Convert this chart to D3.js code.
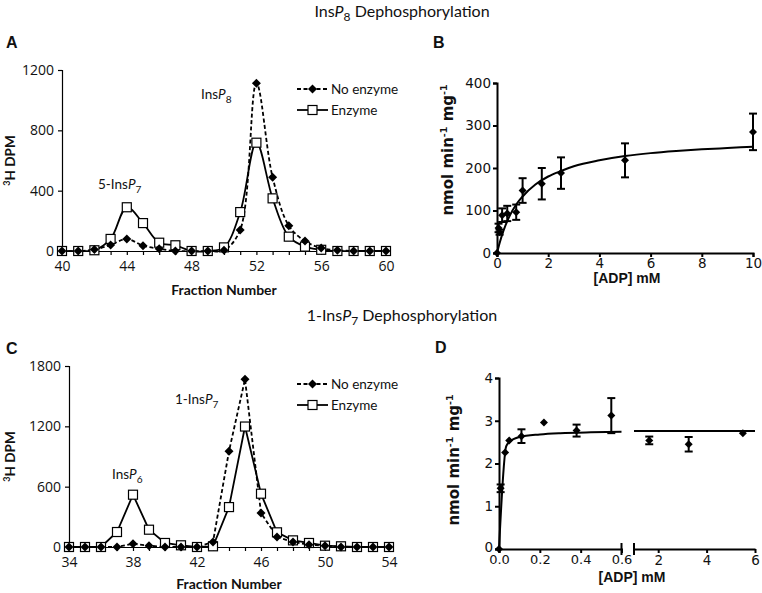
<!DOCTYPE html>
<html>
<head>
<meta charset="utf-8">
<script src="https://cdn.jsdelivr.net/npm/d3@7"></script>
<style>
  html, body { margin: 0; padding: 0; background: #fff; }
  svg { display: block; }
  text { fill: #111; }
</style>
</head>
<body>
<svg id="chart" width="762" height="593"></svg>
<script>
// ---------------- DATA ----------------
// Panel A: InsP8 dephosphorylation HPLC profile
const fracA = [40,41,42,43,44,45,46,47,48,49,50,51,52,53,54,55,56,57,58,59,60];
const noEnzA = [0,0,10,40,80,35,15,0,0,0,5,140,1112,489,168,66,20,5,0,0,0];
const enzA   = [0,0,5,80,290,185,55,38,0,0,24,258,718,349,95,29,8,0,0,0,0];
const xTicksA = [40,44,48,52,56,60];
const yTicksA = [0,400,800,1200];

// Panel B: kinetics vs ADP (InsP8)
const adpB  = [0,0.06,0.1,0.2,0.4,0.75,1,1.75,2.5,5,10];
const rateB = [0,59,49,89,93,96,147,163,188,218,285];
const errB  = [0,10,6,16,18,18,29,37,37,40,43];
const fitXB = [0,0.1,0.25,0.5,0.75,1,1.5,2,2.5,3,4,5,6,7,8,9,10];
const fitYB = [0,23,52,88,114,133,161,180,193,204,218,228,235,240,244,247,250];
const xTicksB = [0,2,4,6,8,10];
const yTicksB = [0,100,200,300,400];

// Panel C: 1-InsP7 dephosphorylation HPLC profile
const fracC = [34,35,36,37,38,39,40,41,42,43,44,45,46,47,48,49,50,51,52,53,54];
const noEnzC = [0,0,0,0,33,13,0,0,0,50,953,1668,338,100,50,23,13,0,0,0,0];
const enzC   = [0,0,0,149,520,172,40,17,0,7,397,1198,530,146,66,40,13,7,0,0,0];
const xTicksC = [34,38,42,46,50,54];
const yTicksC = [0,600,1200,1800];

// Panel D: kinetics vs ADP (1-InsP7), broken x axis
const adpD  = [0,0.008,0.03,0.05,0.11,0.22,0.38,0.55,1.63,3.26,5.5];
const rateD = [0,1.42,2.26,2.54,2.64,2.96,2.77,3.12,2.54,2.45,2.71];
const errD  = [0,0.09,0,0,0.16,0,0.14,0.41,0.09,0.17,0];
const fitXD1 = [0,0.035,0.05,0.1,0.2,0.3,0.45,0.6];
const fitYD1 = [0,2.4,2.5,2.62,2.68,2.71,2.73,2.74];
const fitXD2 = [1,6];
const fitYD2 = [2.76,2.76];
const xTicksD1 = [0,0.2,0.4,0.6];
const xTicksD2 = [2,4,6];
const yTicksD = [0,1,2,3,4];

const legendLabels = ["No enzyme","Enzyme"];

// ---------------- DRAWING ----------------
const svg = d3.select("#chart");
const FONT = "Lato, 'Open Sans', sans-serif";
const FONT_T = "'Open Sans', Lato, sans-serif";
const FONT_B = "'DejaVu Sans', Verdana, sans-serif";
const FONT_BL = "'Liberation Sans', Arial, sans-serif";

function diamond(r){ return `M0,${-r}L${r},0L0,${r}L${-r},0Z`; }

function richTitle(x, y, parts, size, anchor="middle", family=FONT, weight="normal"){
  const t = svg.append("text").attr("x",x).attr("y",y).attr("text-anchor",anchor)
    .attr("font-family",family).attr("font-size",size).attr("font-weight",weight);
  parts.forEach(p=>{
    const ts = t.append("tspan").text(p.t);
    if(p.i) ts.attr("font-style","italic");
    if(p.sub) ts.attr("font-size",size*0.75).attr("dy",size*0.28);
    if(p.up) ts.attr("dy",-size*0.28);
  });
  return t;
}

richTitle(402,17,[{t:"Ins"},{t:"P",i:1},{t:"8",sub:1},{t:" Dephosphorylation",up:1}],16);
richTitle(402,321,[{t:"1-Ins"},{t:"P",i:1},{t:"7",sub:1},{t:" Dephosphorylation",up:1}],16);

[["A",6,48],["B",433,48],["C",6,354],["D",435,353]].forEach(([l,x,y])=>{
  svg.append("text").attr("x",x).attr("y",y).attr("font-family",FONT_BL)
    .attr("font-weight","bold").attr("font-size",16).text(l);
});

// ---------- Profile panels (A, C) ----------
function profilePanel(cfg){
  const g = svg.append("g");
  const x = d3.scaleLinear().domain(cfg.xDom).range(cfg.xRange);
  const y = d3.scaleLinear().domain(cfg.yDom).range(cfg.yRange);

  const yAx = g.append("g").attr("transform",`translate(${cfg.xRange[0]},0)`)
    .call(d3.axisLeft(y).tickValues(cfg.yTicks).tickSize(4).tickPadding(4).tickFormat(d3.format("d")));
  const xAx = g.append("g").attr("transform",`translate(0,${cfg.yRange[0]})`)
    .call(d3.axisBottom(x).tickValues(cfg.frac).tickSize(4).tickPadding(6)
      .tickFormat(d => cfg.xTicks.includes(d) ? d : ""));
  [yAx,xAx].forEach(a=>{
    a.select(".domain").attr("stroke","#000").attr("stroke-width",1.2);
    a.selectAll(".tick line").attr("stroke","#000").attr("stroke-width",1.2);
    a.selectAll("text").attr("font-family",FONT_T).attr("font-size",14).attr("fill","#111");
  });

  const curve = cfg.smooth ? d3.curveCatmullRom.alpha(0.5) : d3.curveLinear;
  const line = d3.line().x((d,i)=>x(cfg.frac[i])).y(d=>y(d)).curve(curve);

  g.append("path").attr("d",line(cfg.noEnz)).attr("fill","none").attr("stroke","#000")
    .attr("stroke-width",1.8).attr("stroke-dasharray","4,2.5");
  g.append("path").attr("d",line(cfg.enz)).attr("fill","none").attr("stroke","#000")
    .attr("stroke-width",1.8);

  g.selectAll(".sq").data(cfg.enz).join("rect")
    .attr("x",(d,i)=>x(cfg.frac[i])-4.5).attr("y",d=>y(d)-4.5)
    .attr("width",9).attr("height",9).attr("fill","#fff").attr("stroke","#000").attr("stroke-width",1.2);
  g.selectAll(".dm").data(cfg.noEnz).join("path")
    .attr("transform",(d,i)=>`translate(${x(cfg.frac[i])},${y(d)})`)
    .attr("d",diamond(4.5)).attr("fill","#000");

  const lx0 = 297, lx1 = 328, lxm = 312.5;
  const [ly1, ly2] = cfg.legendY;
  g.append("line").attr("x1",lx0).attr("x2",lx1).attr("y1",ly1).attr("y2",ly1)
    .attr("stroke","#000").attr("stroke-width",1.8).attr("stroke-dasharray","4,2.5");
  g.append("path").attr("transform",`translate(${lxm},${ly1})`).attr("d",diamond(4.5)).attr("fill","#000");
  g.append("line").attr("x1",lx0).attr("x2",lx1).attr("y1",ly2).attr("y2",ly2)
    .attr("stroke","#000").attr("stroke-width",1.8);
  g.append("rect").attr("x",lxm-4.5).attr("y",ly2-4.5).attr("width",9).attr("height",9)
    .attr("fill","#fff").attr("stroke","#000").attr("stroke-width",1.2);
  g.append("text").attr("x",331).attr("y",ly1+4.5).attr("font-family",FONT).attr("font-size",13.5).text(legendLabels[0]);
  g.append("text").attr("x",331).attr("y",ly2+4.5).attr("font-family",FONT).attr("font-size",13.5).text(legendLabels[1]);

  g.append("text").attr("x",(cfg.xRange[0]+cfg.xRange[1])/2).attr("y",cfg.xTitleY)
    .attr("text-anchor","middle").attr("font-family",FONT).attr("font-weight","bold")
    .attr("font-size",14).text("Fraction Number");
  const yt = g.append("text").attr("transform",`translate(${cfg.yTitleX},${(cfg.yRange[0]+cfg.yRange[1])/2}) rotate(-90)`)
    .attr("text-anchor","middle").attr("font-family",FONT).attr("font-weight","bold").attr("font-size",13.5);
  yt.append("tspan").text("3").attr("font-size",9).attr("dy",-5);
  yt.append("tspan").text("H DPM").attr("dy",5);

  cfg.peaks.forEach(p=>{
    richTitle(p.x,p.y,p.parts,13.5,"start");
  });
}

profilePanel({
  frac: fracA, noEnz: noEnzA, enz: enzA, xTicks: xTicksA, yTicks: yTicksA,
  xDom:[40,60], xRange:[62,386], yDom:[0,1200], yRange:[251,70],
  smooth:true, legendY:[89,110], xTitleY:295, yTitleX:15,
  peaks:[{x:201,y:99,parts:[{t:"Ins"},{t:"P",i:1},{t:"8",sub:1}]},
         {x:98,y:189,parts:[{t:"5-Ins"},{t:"P",i:1},{t:"7",sub:1}]}]
});
profilePanel({
  frac: fracC, noEnz: noEnzC, enz: enzC, xTicks: xTicksC, yTicks: yTicksC,
  xDom:[34,54], xRange:[69,389], yDom:[0,1800], yRange:[547,366],
  smooth:false, legendY:[384,405], xTitleY:589, yTitleX:15,
  peaks:[{x:175,y:404,parts:[{t:"1-Ins"},{t:"P",i:1},{t:"7",sub:1}]},
         {x:112,y:479,parts:[{t:"Ins"},{t:"P",i:1},{t:"6",sub:1}]}]
});

// ---------- Kinetic panels (B, D) ----------
function styleAxis(a){
  a.select(".domain").attr("stroke","#000").attr("stroke-width",2);
  a.selectAll(".tick line").attr("stroke","#000").attr("stroke-width",2);
  a.selectAll("text").attr("font-family",FONT_B).attr("font-size",13.5).attr("fill","#111");
}
function yTitleRate(x, yc){
  const t = svg.append("text").attr("transform",`translate(${x},${yc}) rotate(-90)`)
    .attr("text-anchor","middle").attr("font-family",FONT_B).attr("font-weight","bold").attr("font-size",15);
  t.append("tspan").text("nmol min");
  t.append("tspan").text("-1").attr("font-size",9.5).attr("dy",-6);
  t.append("tspan").text(" mg").attr("dy",6);
  t.append("tspan").text("-1").attr("font-size",9.5).attr("dy",-6);
}
function errorBars(g, xs, ys, es, xf, yf){
  xs.forEach((xv,i)=>{
    if(!es[i]) return;
    const cx = xf(xv), t = yf(ys[i]+es[i]), b = yf(ys[i]-es[i]);
    g.append("line").attr("x1",cx).attr("x2",cx).attr("y1",t).attr("y2",b).attr("stroke","#000").attr("stroke-width",2);
    [t,b].forEach(yy=>g.append("line").attr("x1",cx-4).attr("x2",cx+4).attr("y1",yy).attr("y2",yy)
      .attr("stroke","#000").attr("stroke-width",2));
  });
}

// Panel B
(function(){
  const g = svg.append("g");
  const x = d3.scaleLinear().domain([0,10]).range([497,753]);
  const y = d3.scaleLinear().domain([0,400]).range([253,83]);
  styleAxis(g.append("g").attr("transform","translate(497,0)")
    .call(d3.axisLeft(y).tickValues(yTicksB).tickSize(4).tickPadding(2).tickFormat(d3.format("d"))));
  styleAxis(g.append("g").attr("transform","translate(0,253)")
    .call(d3.axisBottom(x).tickValues(xTicksB).tickSize(4).tickPadding(1).tickFormat(d3.format("d"))));
  const line = d3.line().x((d,i)=>x(fitXB[i])).y(d=>y(d)).curve(d3.curveMonotoneX);
  g.append("path").attr("d",line(fitYB)).attr("fill","none").attr("stroke","#000").attr("stroke-width",2);
  errorBars(g, adpB, rateB, errB, x, y);
  g.selectAll(".dm").data(rateB).join("path")
    .attr("transform",(d,i)=>`translate(${x(adpB[i])},${y(d)})`).attr("d",diamond(4)).attr("fill","#000");
  g.append("text").attr("x",627).attr("y",283).attr("text-anchor","middle").attr("font-family",FONT_BL)
    .attr("font-weight","bold").attr("font-size",14).text("[ADP] mM");
  yTitleRate(453,150);
})();

// Panel D
(function(){
  const g = svg.append("g");
  const x1 = d3.scaleLinear().domain([0,0.6]).range([499,621.5]);
  const x2 = d3.scaleLinear().domain([1,6]).range([634,755]);
  const xf = v => v <= 0.6 ? x1(v) : x2(v);
  const y = d3.scaleLinear().domain([0,4]).range([549,378]);
  const yAxD = g.append("g").attr("transform","translate(499,0)")
    .call(d3.axisLeft(y).tickValues(yTicksD).tickSize(4).tickPadding(2).tickFormat(d3.format("d")));
  styleAxis(yAxD);
  const ax1 = g.append("g").attr("transform","translate(0,549)")
    .call(d3.axisBottom(x1).tickValues(xTicksD1).tickSize(4).tickPadding(2).tickFormat(d3.format(".1f")));
  const ax2 = g.append("g").attr("transform","translate(0,549)")
    .call(d3.axisBottom(x2).tickValues(xTicksD2).tickSize(4).tickPadding(2).tickSizeOuter(0).tickFormat(d3.format("d")));
  styleAxis(ax1); styleAxis(ax2);
  ax1.selectAll(".tick text").attr("font-size",13);
  yAxD.selectAll(".tick text").filter(d=>d===0).attr("dy","0.2em");
  [x1(0.6), x2(1)].forEach(bx=>g.append("line").attr("x1",bx).attr("x2",bx).attr("y1",543).attr("y2",555)
    .attr("stroke","#000").attr("stroke-width",2));
  const line = d3.line().curve(d3.curveMonotoneX);
  g.append("path").attr("d",line(fitXD1.map((v,i)=>[x1(v),y(fitYD1[i])]))).attr("fill","none").attr("stroke","#000").attr("stroke-width",2);
  g.append("path").attr("d",line(fitXD2.map((v,i)=>[x2(v),y(fitYD2[i])]))).attr("fill","none").attr("stroke","#000").attr("stroke-width",2);
  errorBars(g, adpD, rateD, errD, xf, y);
  g.selectAll(".dm").data(rateD).join("path")
    .attr("transform",(d,i)=>`translate(${xf(adpD[i])},${y(d)})`).attr("d",diamond(4)).attr("fill","#000");
  g.append("text").attr("x",632).attr("y",582).attr("text-anchor","middle").attr("font-family",FONT_BL)
    .attr("font-weight","bold").attr("font-size",14).text("[ADP] mM");
  yTitleRate(459,460);
})();
</script>
</body>
</html>
